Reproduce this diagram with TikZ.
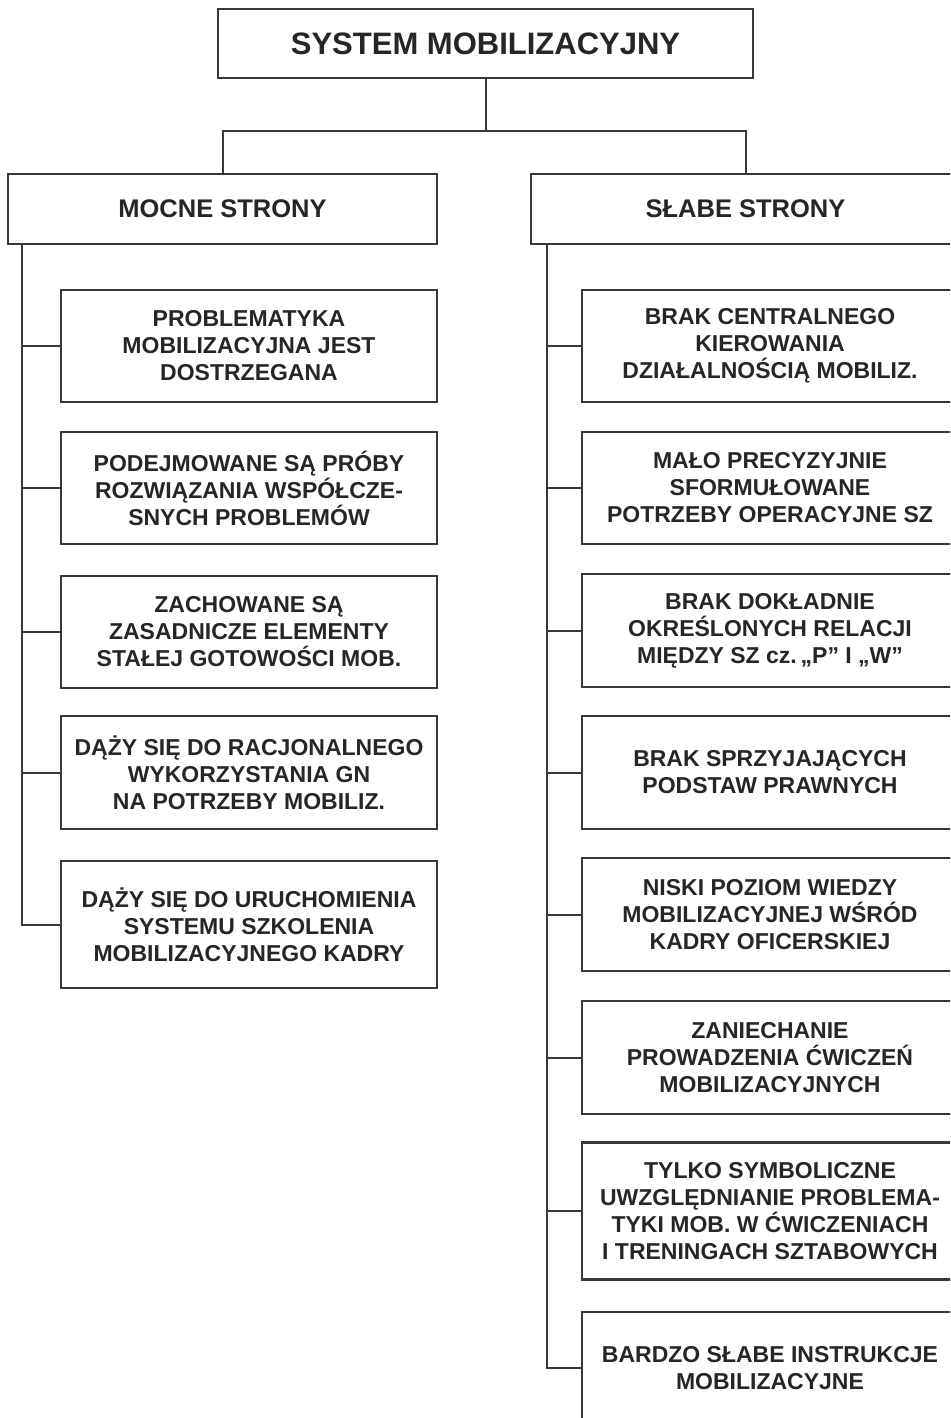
\documentclass[tikz,border=0pt]{standalone}
\usepackage{fontspec}
\setmainfont{Liberation Sans}
\begin{document}
\begin{tikzpicture}[x=1pt,y=-1pt,
  ink/.style={draw=black!78,line width=2.2pt},
  box/.style={ink,rectangle,inner sep=0pt,align=center,text=black!85,
    font=\bfseries\fontsize{23}{27}\selectfont,minimum width=376pt},
  headbox/.style={box,minimum width=429pt,minimum height=70pt,
    font=\bfseries\fontsize{25.5}{30}\selectfont},
  wire/.style={draw=black!78,line width=2pt}]
\useasboundingbox (0,0) rectangle (950,1418);
\clip (0,0) rectangle (950,1418);
\fill[white] (0,0) rectangle (950,1418);

% title and the two column heads
\node[box,minimum width=535pt,minimum height=69pt,
  font=\bfseries\fontsize{31}{35}\selectfont] (top) at (485.5,43.5) {SYSTEM MOBILIZACYJNY};
\node[headbox] (ms) at (222.5,209) {MOCNE STRONY};
\node[headbox] (ss) at (745.5,209) {SŁABE STRONY};
\coordinate (jn) at (485.5,131);
\draw[wire] (top.south) -- (jn) -| (ms.north);
\draw[wire] (jn) -| (ss.north);

% strong points
\node[box,minimum height=112pt] (l1) at (249,346) {PROBLEMATYKA\\MOBILIZACYJNA JEST\\DOSTRZEGANA};
\node[box,minimum height=112pt] (l2) at (249,488) {PODEJMOWANE SĄ PRÓBY\\ROZWIĄZANIA WSPÓŁCZE-\\SNYCH PROBLEMÓW};
\node[box,minimum height=112pt] (l3) at (249,632) {ZACHOWANE SĄ\\ZASADNICZE ELEMENTY\\STAŁEJ GOTOWOŚCI MOB.};
\node[box,minimum height=113pt] (l4) at (249,772.5) {DĄŻY SIĘ DO RACJONALNEGO\\WYKORZYSTANIA GN\\NA POTRZEBY MOBILIZ.};
\node[box,minimum height=127pt] (l5) at (249,924.5) {DĄŻY SIĘ DO URUCHOMIENIA\\SYSTEMU SZKOLENIA\\MOBILIZACYJNEGO KADRY};

% weak points
\node[box,minimum height=112pt] (r1) at (770,346) {BRAK CENTRALNEGO\\KIEROWANIA\\DZIAŁALNOŚCIĄ MOBILIZ.};
\node[box,minimum height=112pt] (r2) at (770,488) {MAŁO PRECYZYJNIE\\SFORMUŁOWANE\\POTRZEBY OPERACYJNE SZ};
\node[box,minimum height=113pt] (r3) at (770,630.5) {BRAK DOKŁADNIE\\OKREŚLONYCH RELACJI\\MIĘDZY SZ cz.\,„P” I „W”};
\node[box,minimum height=113pt] (r4) at (770,772.5) {BRAK SPRZYJAJĄCYCH\\PODSTAW PRAWNYCH};
\node[box,minimum height=113pt] (r5) at (770,914.5) {NISKI POZIOM WIEDZY\\MOBILIZACYJNEJ WŚRÓD\\KADRY OFICERSKIEJ};
\node[box,minimum height=113pt] (r6) at (770,1057.5) {ZANIECHANIE\\PROWADZENIA ĆWICZEŃ\\MOBILIZACYJNYCH};
\node[box,minimum height=137pt] (r7) at (770,1211) {TYLKO SYMBOLICZNE\\UWZGLĘDNIANIE PROBLEMA-\\TYKI MOB. W ĆWICZENIACH\\I TRENINGACH SZTABOWYCH};
\node[box,minimum height=112pt] (r8) at (770,1368) {BARDZO SŁABE INSTRUKCJE\\MOBILIZACYJNE};

% spines with their branches
\coordinate (spl) at (22,0);
\coordinate (spr) at (547,0);
\draw[wire] (spl |- ms.south) |- (l5.west);
\foreach \b in {l1,l2,l3,l4} \draw[wire] (spl |- \b.west) -- (\b.west);
\draw[wire] (spr |- ss.south) |- (r8.west);
\foreach \b in {r1,r2,r3,r4,r5,r6,r7} \draw[wire] (spr |- \b.west) -- (\b.west);
\end{tikzpicture}
\end{document}
